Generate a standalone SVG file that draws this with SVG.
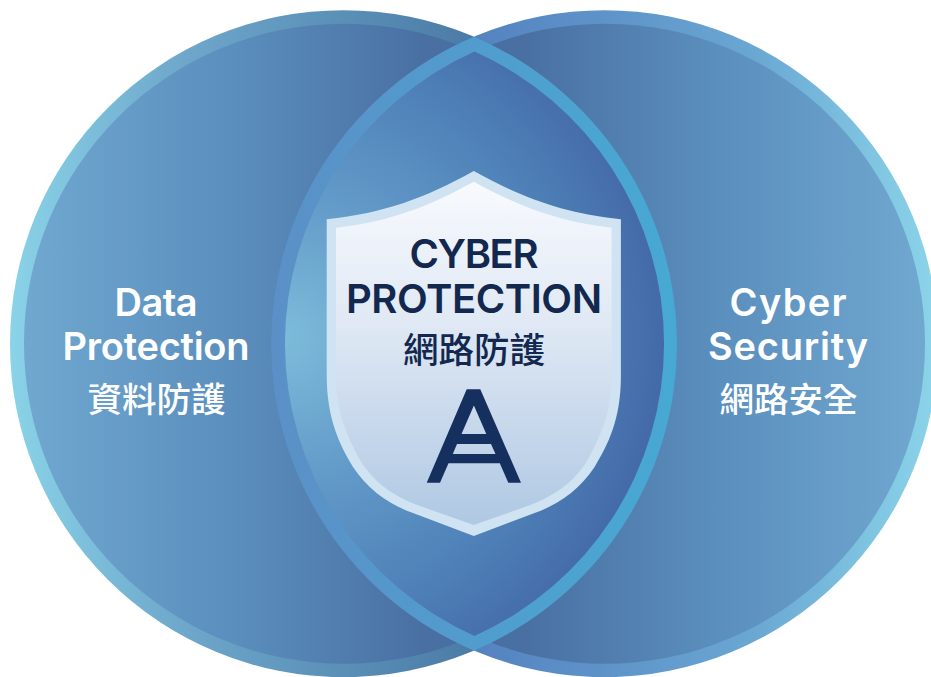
<svg xmlns="http://www.w3.org/2000/svg" width="931" height="677" viewBox="0 0 931 677">
<style>
.lat{font-family:"Inter","Liberation Sans",sans-serif;font-weight:600;text-anchor:middle}
.cjk{font-family:"Noto Sans CJK TC","Noto Sans",sans-serif;font-weight:500;text-anchor:middle}
.w{fill:#fff}.d{fill:#12284f}
</style>
<defs>
<linearGradient id="lr" gradientUnits="userSpaceOnUse" x1="10" y1="0" x2="476" y2="0"><stop offset="0" stop-color="#8ad3e8"/><stop offset=".35" stop-color="#6fa9cc"/><stop offset="1" stop-color="#4a7ba6"/></linearGradient>
<linearGradient id="lf" gradientUnits="userSpaceOnUse" x1="24" y1="0" x2="476" y2="0"><stop offset="0" stop-color="#70a8d0"/><stop offset=".47" stop-color="#5a8ebd"/><stop offset=".88" stop-color="#4a70a3"/><stop offset="1" stop-color="#496da1"/></linearGradient>
<linearGradient id="rr" gradientUnits="userSpaceOnUse" x1="472" y1="0" x2="931" y2="0"><stop offset="0" stop-color="#5482c0"/><stop offset=".6" stop-color="#69a6d2"/><stop offset="1" stop-color="#8ad3e8"/></linearGradient>
<linearGradient id="rf" gradientUnits="userSpaceOnUse" x1="472" y1="0" x2="925" y2="0"><stop offset="0" stop-color="#496da1"/><stop offset=".12" stop-color="#4a70a3"/><stop offset=".53" stop-color="#5a8ebd"/><stop offset="1" stop-color="#70a8d0"/></linearGradient>
<linearGradient id="cr" gradientUnits="userSpaceOnUse" x1="271" y1="0" x2="677" y2="0"><stop offset="0" stop-color="#5b90c7"/><stop offset="1" stop-color="#47a9d3"/></linearGradient>
<radialGradient id="cf" gradientUnits="userSpaceOnUse" cx="285" cy="338" r="395"><stop offset="0" stop-color="#7dbbda"/><stop offset=".38" stop-color="#6199c8"/><stop offset=".72" stop-color="#4e80b7"/><stop offset="1" stop-color="#4266a5"/></radialGradient>
<linearGradient id="sf" gradientUnits="userSpaceOnUse" x1="0" y1="182" x2="0" y2="525"><stop offset="0" stop-color="#f8fafe"/><stop offset=".42" stop-color="#dfe8f4"/><stop offset="1" stop-color="#afc8e3"/></linearGradient>
</defs>
<g id="data-protection">
<circle cx="343.5" cy="343.7" r="333.5" fill="url(#lr)"/>
<circle cx="344" cy="343.7" r="320" fill="url(#lf)"/>
<text class="lat w" x="156" y="315.500" font-size="38" textLength="83" lengthAdjust="spacing">Data</text>
<text class="lat w" x="156" y="359.500" font-size="38" textLength="187" lengthAdjust="spacing">Protection</text>
<text class="cjk w" x="156.500" y="412" font-size="34.500">資料防護</text>
</g>
<g id="cyber-security">
<circle cx="604.5" cy="343.7" r="333.5" fill="url(#rr)"/>
<circle cx="605" cy="343.7" r="320" fill="url(#rf)"/>
<text class="lat w" x="788" y="315.500" font-size="38" textLength="117" lengthAdjust="spacing">Cyber</text>
<text class="lat w" x="788" y="359.500" font-size="38" textLength="160" lengthAdjust="spacing">Security</text>
<text class="cjk w" x="788.500" y="412" font-size="34.500">網路安全</text>
</g>
<g id="overlap">
<path d="M474 36.800A333.500 333.500 0 0 1 474 650.600A333.500 333.500 0 0 1 474 36.800Z" fill="url(#cr)"/>
<path d="M474.500 51.500A320 320 0 0 1 474.500 635.900A320 320 0 0 1 474.500 51.500Z" fill="url(#cf)"/>
</g>
<g id="cyber-protection">
<path d="M473.800 171C425 198 385 213 326.700 219.300V376C327 420 340 445 353 467C368 490 390 505 413 513L473.800 536L534.600 513C557.600 505 579.600 490 594.600 467C607.600 445 620.900 420 620.900 376V219.300C562.600 213 522.600 198 473.800 171Z" fill="#d0e3f2"/>
<path d="M473.800 181.700C428 207 388 222 336 227.700V376C336 410 345 432 360 460C375 485 398 498 420 506L473.800 525L527.600 506C549.600 498 572.600 485 587.600 460C602.600 432 611.600 410 611.600 376V227.700C559.600 222 519.600 207 473.800 181.700Z" fill="url(#sf)"/>
<text class="lat d" x="474" y="268" font-size="40" textLength="129" lengthAdjust="spacing">CYBER</text>
<text class="lat d" x="474" y="313" font-size="40" textLength="256" lengthAdjust="spacing">PROTECTION</text>
<text class="cjk d" x="474" y="362.500" font-size="35.500">網路防護</text>
<path fill-rule="evenodd" d="M466.700 389.300H480.300L521 482.700H508.300L499.800 463.300H448.500L440 482.700H426.700ZM473.900 405.500L461.500 434H486.300ZM457 444L452.800 454H495.500L491 444Z" fill="#15305f"/>
</g>
</svg>
